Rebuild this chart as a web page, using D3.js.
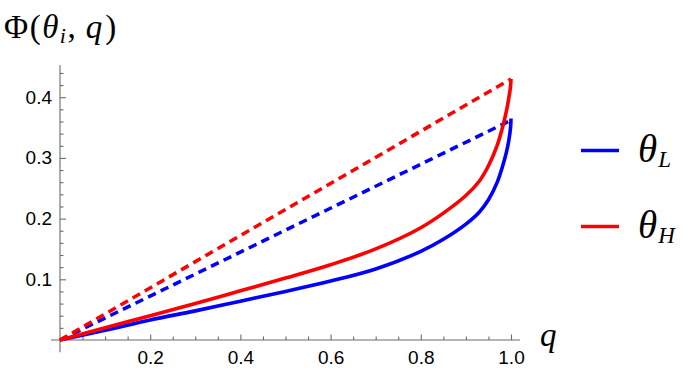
<!DOCTYPE html>
<html>
<head>
<meta charset="utf-8">
<script src="https://cdn.jsdelivr.net/npm/d3@7"></script>
<style>
  html, body { margin: 0; padding: 0; background: #fff; }
  svg { display: block; }
  svg .tick text { font-family: "Liberation Sans" !important; font-size: 19px !important; fill: #000; }
</style>
</head>
<body>
<svg id="chart" width="696" height="376"></svg>
<script>
// ---- data ----
const qValues   = [0, 0.1, 0.2, 0.3, 0.4, 0.5, 0.6, 0.7, 0.8, 0.85, 0.9, 0.93, 0.95, 0.97, 0.98, 0.99, 0.995, 0.999, 1];
const phiLow    = [0, 0.016, 0.033, 0.048, 0.064, 0.080, 0.097, 0.117, 0.146, 0.166, 0.191, 0.211, 0.231, 0.261, 0.283, 0.31, 0.328, 0.35, 0.365];
const phiHigh   = [0, 0.020, 0.040, 0.060, 0.081, 0.102, 0.124, 0.150, 0.185, 0.209, 0.238, 0.262, 0.287, 0.322, 0.347, 0.378, 0.398, 0.418, 0.43];
const dashQ     = [0, 1];
const dashLow   = [0, 0.362];
const dashHigh  = [0, 0.43];
const xTicks    = [0.2, 0.4, 0.6, 0.8, 1.0];
const yTicks    = [0.1, 0.2, 0.3, 0.4];
const xTickLabels = ["0.2", "0.4", "0.6", "0.8", "1.0"];
const yTickLabels = ["0.1", "0.2", "0.3", "0.4"];
const legendNames = ["L", "H"];

// ---- scales ----
const svg = d3.select("#chart");
const x = d3.scaleLinear().domain([0, 1]).range([60, 511]);
const y = d3.scaleLinear().domain([0, 0.4]).range([340, 97.2]);
const axisColor = "#6b6b6b";
const blue = "#0000ff", red = "#ff0000";
const SERIF = '"Liberation Serif"';

const xMinor = d3.range(1, 21).map(i => +(i * 0.05).toFixed(2)).filter(v => !xTicks.some(t => Math.abs(t - v) < 1e-9));
const yMinor = d3.range(1, 23).map(i => +(i * 0.02).toFixed(2)).filter(v => !yTicks.some(t => Math.abs(t - v) < 1e-9));

svg.append("line").attr("x1", x(-0.02)).attr("x2", x(1.02)).attr("y1", y(0)).attr("y2", y(0))
  .attr("stroke", axisColor).attr("stroke-width", 1.1);
svg.append("line").attr("x1", x(0)).attr("x2", x(0)).attr("y1", y(-0.02)).attr("y2", y(0.453))
  .attr("stroke", axisColor).attr("stroke-width", 1.1);

function styleAxis(g) {
  g.attr("font-family", "Liberation Sans").attr("font-size", 19);
  g.select(".domain").remove();
  g.selectAll(".tick line").attr("stroke", axisColor).attr("stroke-width", 1.1);
  g.selectAll(".tick text").attr("fill", "#000");
}

svg.append("g").attr("transform", `translate(0,${y(0)})`)
  .call(d3.axisBottom(x).tickValues(xTicks).tickFormat((d, i) => xTickLabels[i]).tickSizeInner(-5.5).tickSizeOuter(0).tickPadding(11))
  .call(styleAxis);
svg.append("g").attr("transform", `translate(0,${y(0)})`)
  .call(d3.axisBottom(x).tickValues(xMinor).tickFormat("").tickSizeInner(-3.5).tickSizeOuter(0))
  .call(styleAxis);
svg.append("g").attr("transform", `translate(${x(0)},0)`)
  .call(d3.axisLeft(y).tickValues(yTicks).tickFormat((d, i) => yTickLabels[i]).tickSizeInner(-6).tickSizeOuter(0).tickPadding(8))
  .call(styleAxis);
svg.append("g").attr("transform", `translate(${x(0)},0)`)
  .call(d3.axisLeft(y).tickValues(yMinor).tickFormat("").tickSizeInner(-3.5).tickSizeOuter(0))
  .call(styleAxis);

// ---- lines ----
const lineGen = d3.line().x(d => x(d[0])).y(d => y(d[1])).curve(d3.curveCatmullRom.alpha(0.5));
const straight = d3.line().x(d => x(d[0])).y(d => y(d[1]));

function dashed(vals, color) {
  svg.append("path").datum(dashQ.map((q, i) => [q, vals[i]]))
    .attr("d", straight).attr("fill", "none").attr("stroke", color)
    .attr("stroke-width", 3.5).attr("stroke-dasharray", "8.5,5.5");
}
function solid(vals, color) {
  svg.append("path").datum(qValues.map((q, i) => [q, vals[i]]))
    .attr("d", lineGen).attr("fill", "none").attr("stroke", color)
    .attr("stroke-width", 3.6).attr("stroke-linejoin", "round");
}
dashed(dashLow, blue);
solid(phiLow, blue);
dashed(dashHigh, red);
solid(phiHigh, red);

// ---- labels ----
const yl = svg.append("text").attr("x", 4).attr("y", 38).style("font-family", SERIF).style("font-size", "33px").attr("fill", "#000");
yl.append("tspan").text("Φ");
yl.append("tspan").attr("dx", 1.5).text("(");
yl.append("tspan").style("font-style", "italic").attr("dx", 1.5).text("θ");
yl.append("tspan").style("font-style", "italic").style("font-size", "22px").attr("dy", 5).attr("dx", 1.5).text("i");
yl.append("tspan").attr("dy", -5).attr("dx", 1.5).text(",");
yl.append("tspan").style("font-style", "italic").attr("dx", 10).text("q");
yl.append("tspan").attr("dx", 3).text(")");

svg.append("text").attr("x", 540).attr("y", 346).style("font-family", SERIF).style("font-size", "33px")
  .style("font-style", "italic").attr("fill", "#000").text("q");

// ---- legend ----
const legendColors = [blue, red];
const legendY = [150.5, 226.5];
legendNames.forEach((n, i) => {
  svg.append("line").attr("x1", 581).attr("x2", 619).attr("y1", legendY[i]).attr("y2", legendY[i])
    .attr("stroke", legendColors[i]).attr("stroke-width", 3.5);
  const t = svg.append("text").attr("x", 638).attr("y", legendY[i] + 11).style("font-family", SERIF)
    .style("font-size", "39px").style("font-style", "italic").attr("fill", "#000");
  t.append("tspan").text("θ");
  t.append("tspan").style("font-size", "23px").attr("dy", 5).attr("dx", 1).text(n);
});
</script>
</body>
</html>
